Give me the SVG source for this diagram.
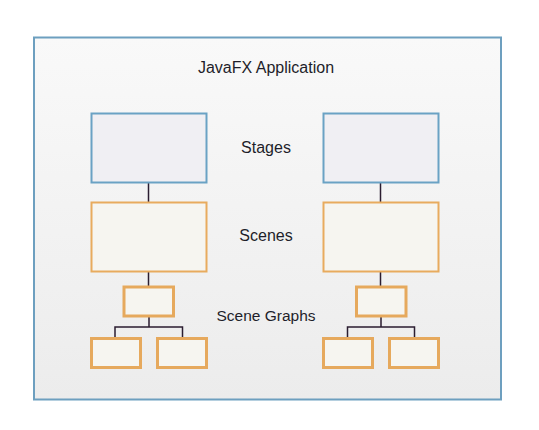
<svg xmlns="http://www.w3.org/2000/svg" width="539" height="430" viewBox="0 0 539 430">
<defs>
<linearGradient id="bg" x1="0" y1="0" x2="0" y2="1">
<stop offset="0" stop-color="#f9f9f9"/>
<stop offset="1" stop-color="#ececec"/>
</linearGradient>
</defs>
<style>
.stage{fill:#f0eff3;stroke:#6aa2c4;stroke-width:2}
.scene{fill:#f6f5f0;stroke:#e8ab5e;stroke-width:2}
.node{fill:#f6f5f0;stroke:#e6a95d;stroke-width:3}
.wire{fill:none;stroke:#2b1d30;stroke-width:1.5}
.lbl{font-family:"Liberation Sans",Arial,sans-serif;font-size:16px;fill:#1e1e2a;text-anchor:middle}
</style>
<rect width="539" height="430" fill="#ffffff"/>
<g id="app">
<rect x="34" y="37.5" width="467" height="362" fill="url(#bg)" stroke="#6d9fbf" stroke-width="2"/>
<text class="lbl" x="266" y="73">JavaFX Application</text>
</g>
<g id="labels">
<text class="lbl" x="266" y="152.5">Stages</text>
<text class="lbl" x="266" y="240.5">Scenes</text>
<text class="lbl" x="266" y="320.5" style="font-size:15.5px">Scene Graphs</text>
</g>
<g id="connectors">
<path class="wire" d="M148.5 182V202M148.5 272V286M149 317V327M115 338V327H182.5V338"/>
<path class="wire" d="M380.5 182V202M380.5 272V286M381 317V327M347.5 338V327H414.5V338"/>
</g>
<g id="stage-left"><rect class="stage" x="91.5" y="113.5" width="115" height="69"/></g>
<g id="stage-right"><rect class="stage" x="323.5" y="113.5" width="115" height="69"/></g>
<g id="scene-left"><rect class="scene" x="91.5" y="202.5" width="115" height="69"/></g>
<g id="scene-right"><rect class="scene" x="323.5" y="202.5" width="115" height="69"/></g>
<g id="root-left"><rect class="node" x="124" y="287" width="49.5" height="29"/></g>
<g id="root-right"><rect class="node" x="356.5" y="287" width="49.5" height="29"/></g>
<g id="leaf-left-1"><rect class="node" x="91.5" y="338.5" width="49" height="29"/></g>
<g id="leaf-left-2"><rect class="node" x="157.5" y="338.5" width="49" height="29"/></g>
<g id="leaf-right-1"><rect class="node" x="323.5" y="338.5" width="49" height="29"/></g>
<g id="leaf-right-2"><rect class="node" x="389.5" y="338.5" width="49" height="29"/></g>
</svg>
